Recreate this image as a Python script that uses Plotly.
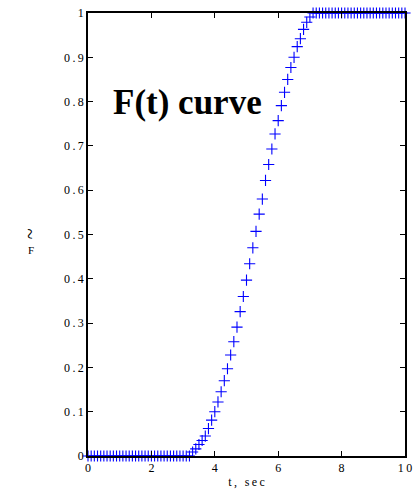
import plotly.graph_objects as go

# time samples (sec), step 0.1 from 0 to 10
t_values = [round(i * 0.1, 1) for i in range(101)]

# F(t) readings: zero until 3.2, rising 3.3..7.0, one afterwards
F_zero = [0.0] * 33  # t = 0.0 .. 3.2
F_rise = [0.009, 0.016, 0.026, 0.035, 0.045, 0.062, 0.081, 0.100, 0.122, 0.145,
          0.170, 0.197, 0.228, 0.258, 0.291, 0.326, 0.360, 0.397, 0.434, 0.470,
          0.507, 0.546, 0.580, 0.622, 0.658, 0.693, 0.727, 0.757, 0.791, 0.821,
          0.850, 0.877, 0.900, 0.924, 0.942, 0.963, 0.979, 0.991]  # t = 3.3 .. 7.0
F_one = [1.0] * (101 - 33 - len(F_rise))  # t = 7.1 .. 10.0
F_values = F_zero + F_rise + F_one

x_ticks = [0, 2, 4, 6, 8, 10]
y_ticks = [0, 0.1, 0.2, 0.3, 0.4, 0.5, 0.6, 0.7, 0.8, 0.9, 1]

serif = "Liberation Serif"
SP = "\u2009"


def spaced(s):
    return SP.join(list(s))


fig = go.Figure()
fig.add_trace(go.Scatter(
    x=t_values, y=F_values, mode="markers",
    marker=dict(symbol="cross-thin", size=8, color="#0000ff",
                line=dict(color="#0000ff", width=1.1)),
    cliponaxis=False, showlegend=False,
))

axis_common = dict(showline=True, linecolor="black", linewidth=1.5, mirror="ticks",
                   ticks="inside", ticklen=5, tickwidth=1, tickcolor="black",
                   showgrid=False, zeroline=False, ticklabeloverflow="allow",
                   tickfont=dict(family=serif, size=12, color="black"))

fig.update_xaxes(range=[0, 10], tickvals=x_ticks, ticktext=[spaced(str(v)) for v in x_ticks],
                 title=dict(text=spaced("t, sec"), font=dict(family=serif, size=12, color="black"),
                            standoff=3),
                 **axis_common)
fig.update_yaxes(range=[0, 1], tickvals=y_ticks,
                 ticktext=[spaced("0" if v == 0 else ("1" if v == 1 else str(v))) for v in y_ticks],
                 **axis_common)

fig.add_annotation(text="<b>F(t) curve</b>", xref="paper", yref="paper",
                   x=0.315, y=0.797, xanchor="center", yanchor="middle", showarrow=False,
                   font=dict(family=serif, size=35, color="black"))
fig.add_annotation(text="~", xref="paper", yref="paper", x=-0.18, y=0.50,
                   xanchor="center", yanchor="middle",
                   textangle=90, showarrow=False,
                   font=dict(family=serif, size=20, color="black"))
fig.add_annotation(text="F", xref="paper", yref="paper", x=-0.18, y=0.466,
                   xanchor="center", yanchor="middle",
                   showarrow=False, font=dict(family=serif, size=11, color="black"))

fig.update_layout(width=416, height=493,
                  margin=dict(l=88, r=4, t=13, b=37),
                  plot_bgcolor="white", paper_bgcolor="white")

fig.write_html("out.html")
